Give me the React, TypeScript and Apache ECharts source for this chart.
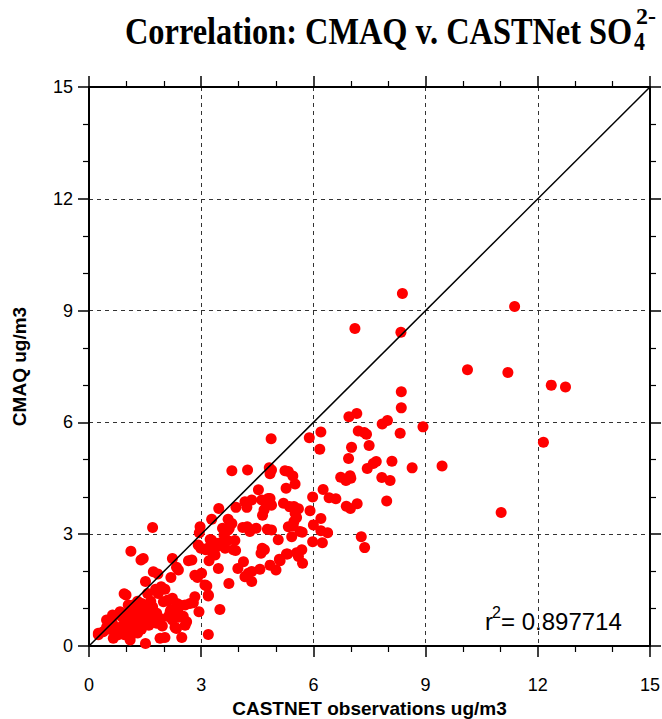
import React, { useEffect, useRef } from "react";
import * as echarts from "echarts";

// [CASTNET observation, CMAQ] pairs, ug/m3
const highPoints: [number, number][] = [
  [8.38, 9.46], [11.38, 9.11], [7.11, 8.52], [8.34, 8.42], [10.12, 7.41], [11.2, 7.34],
  [12.36, 7.0], [12.74, 6.95], [8.35, 6.82], [8.35, 6.39], [12.15, 5.47], [8.93, 5.88],
  [6.95, 6.15], [7.16, 6.24], [7.84, 5.96], [7.98, 6.05], [8.32, 5.71], [6.2, 5.74],
  [5.89, 5.59], [6.17, 5.28], [7.2, 5.77], [7.36, 5.73], [7.42, 5.68], [7.49, 5.38],
  [7.02, 5.33], [6.94, 5.03], [7.6, 4.9], [7.68, 4.95], [8.1, 4.96], [7.44, 4.76],
  [8.64, 4.78], [9.44, 4.83], [6.73, 4.53], [6.87, 4.44], [7.0, 4.5], [6.98, 4.57],
  [7.83, 4.52], [8.05, 4.44], [5.98, 4.0], [6.26, 4.2], [6.42, 3.98], [6.6, 3.95],
  [6.88, 3.75], [6.99, 3.69], [7.17, 3.82], [7.96, 3.89], [11.02, 3.58], [5.91, 3.63],
  [6.2, 3.42], [6.0, 3.25], [6.2, 3.09], [6.38, 3.04], [5.7, 3.05], [5.98, 2.8],
  [6.24, 2.77], [7.28, 2.93], [7.37, 2.64], [5.69, 2.58],
];

const midPoints: [number, number][] = [
  [4.87, 5.56], [4.88, 4.72], [5.24, 4.7], [5.33, 4.68], [5.45, 4.56], [5.51, 4.35],
  [5.27, 4.23], [4.84, 3.96], [4.88, 3.78], [5.2, 3.83], [5.36, 3.74], [5.48, 3.74],
  [5.6, 3.68], [5.51, 3.56], [5.55, 3.45], [5.48, 3.34], [5.33, 3.2], [5.46, 3.22],
  [4.88, 3.11], [5.06, 2.85], [5.42, 2.93], [5.64, 3.07], [5.28, 2.47], [5.55, 2.5],
  [5.09, 2.33], [5.6, 2.4], [3.82, 4.7], [4.24, 4.72], [4.82, 4.78], [4.84, 4.62],
  [4.53, 4.19], [4.17, 3.87], [4.35, 3.92], [4.62, 3.92], [4.79, 3.96], [4.75, 3.78],
  [4.68, 3.65], [4.64, 3.51], [4.22, 3.72], [3.93, 3.72], [3.47, 3.69], [3.28, 3.4],
  [3.72, 3.4], [3.82, 3.29], [3.75, 3.16], [3.57, 3.16], [3.61, 2.98], [4.11, 3.18],
  [4.23, 3.2], [4.3, 3.07], [4.47, 3.16], [4.77, 3.13], [2.97, 3.2], [2.95, 3.04],
  [1.7, 3.18], [3.24, 2.86], [3.46, 2.76], [3.7, 2.83], [3.9, 2.83],
  [3.19, 0.31], [3.5, 0.98], [3.74, 1.68], [3.15, 1.61], [3.19, 1.34], [3.98, 2.08],
  [4.13, 2.26], [4.17, 1.86], [4.26, 1.95], [4.35, 1.73], [4.35, 2.0], [4.57, 2.06],
  [4.6, 2.49], [4.69, 2.58], [4.63, 2.62], [4.84, 2.17], [5.0, 2.04], [5.11, 2.29],
  [5.31, 2.47], [5.71, 2.22], [3.21, 2.29], [3.46, 2.08], [3.37, 2.44], [3.41, 2.66],
  [3.5, 2.71], [3.17, 2.62], [3.28, 2.84], [3.92, 2.56], [3.68, 2.84], [3.64, 2.62],
  [3.86, 2.58], [3.72, 3.11], [3.01, 1.95], [3.24, 2.58],
];

const lowPoints: [number, number][] = [
  [1.12, 2.54], [1.39, 2.31], [1.45, 2.35], [1.72, 1.99], [1.84, 1.93], [2.23, 2.35],
  [2.34, 2.11], [2.39, 2.04], [2.66, 2.29], [2.75, 2.31], [2.19, 1.84], [2.83, 1.9],
  [2.9, 1.84], [1.51, 1.73], [1.78, 1.52], [1.9, 1.5], [1.85, 1.41], [1.57, 1.41],
  [0.94, 1.4], [2.1, 1.23], [2.23, 1.28], [1.18, 1.1], [1.41, 1.14], [1.45, 0.98],
  [1.72, 0.95], [1.81, 0.88], [2.19, 0.97], [2.37, 0.98], [2.57, 1.1], [2.79, 1.16],
  [2.94, 0.92], [0.83, 0.92], [0.87, 0.79], [1.01, 0.86], [1.1, 0.77], [1.21, 0.7],
  [1.32, 0.89], [0.61, 0.65], [0.65, 0.56], [0.47, 0.5], [0.38, 0.38], [0.25, 0.3],
  [0.74, 0.41], [0.78, 0.3], [1.05, 0.5], [1.18, 0.43], [1.1, 0.25], [1.45, 0.63],
  [1.6, 0.56], [1.68, 0.7], [1.81, 0.61], [1.9, 0.74], [1.96, 0.54], [2.12, 0.79],
  [2.23, 0.7], [2.39, 0.77], [2.52, 0.8], [2.61, 0.65], [2.3, 0.5], [1.51, 0.07],
  [1.9, 0.21], [2.03, 0.23], [2.48, 0.23], [3.1, 1.64], [3.19, 1.37], [2.99, 2.62],
  [3.32, 2.44], [2.03, 1.52], [1.93, 1.59], [2.92, 2.71], [3.12, 2.58], [2.83, 1.32],
  [2.7, 1.14], [2.43, 1.1], [2.35, 1.14], [2.12, 1.23], [1.99, 1.19], [2.17, 0.92],
  [2.43, 0.83], [2.57, 0.56], [2.34, 0.47], [0.99, 1.37], [0.63, 0.83], [0.47, 0.7],
  [0.25, 0.34], [1.05, 1.1], [0.65, 0.21], [1.1, 0.16], [1.2, 1.0], [1.3, 1.2],
  [1.35, 0.75], [1.5, 0.9], [1.55, 1.05], [1.65, 1.2], [1.6, 0.8], [1.0, 0.6],
  [1.25, 0.55], [1.4, 0.45], [0.9, 0.55], [0.55, 0.45], [1.7, 1.05], [1.3, 0.35],
  [0.95, 0.3],
];

const oneToOne: [number, number][] = [[0, 0], [15, 15]];
const axisMin = 0;
const axisMax = 15;
const axisStep = 3;
const r2Value = "0.897714";

const SANS = "'Liberation Sans', Arial, Helvetica, sans-serif";
const SERIF = "'Liberation Serif', 'Times New Roman', serif";

function axisCommon(show: boolean) {
  return {
    type: "value" as const,
    min: axisMin,
    max: axisMax,
    interval: axisStep,
    axisLine: { show: true, onZero: false, lineStyle: { color: "#000", width: 2 } },
    axisTick: { show: true, length: 11, lineStyle: { color: "#000", width: 1.5 } },
    minorTick: { show: true, splitNumber: 3, length: 6, lineStyle: { color: "#000", width: 1.2 } },
    axisLabel: {
      show,
      color: "#000",
      fontSize: 18,
      fontFamily: SANS,
    },
    splitLine: {
      show,
      lineStyle: { color: "#333", width: 1, type: [4, 4] as any },
    },
  };
}

export default function App() {
  const ref = useRef<HTMLDivElement>(null);
  useEffect(() => {
    if (!ref.current) return;
    const chart = echarts.init(ref.current, undefined, { renderer: "svg" });
    const titleScale = 0.875;
    chart.setOption({
      animation: false,
      backgroundColor: "#fff",
      grid: { left: 89, right: 12, top: 87, bottom: 73, outerBoundsMode: "none", containLabel: false },
      xAxis: [
        {
          ...axisCommon(true),
          position: "bottom",
          axisLabel: { ...axisCommon(true).axisLabel, margin: 30 },
          name: "CASTNET observations ug/m3",
          nameLocation: "middle",
          nameGap: 52,
          nameTextStyle: { color: "#000", fontSize: 19, fontWeight: "bold", fontFamily: SANS },
        },
        { ...axisCommon(false), position: "top" },
      ],
      yAxis: [
        {
          ...axisCommon(true),
          position: "left",
          axisLabel: { ...axisCommon(true).axisLabel, margin: 16 },
          name: "CMAQ ug/m3",
          nameLocation: "middle",
          nameGap: 60,
          nameTextStyle: { color: "#000", fontSize: 19, fontWeight: "bold", fontFamily: SANS },
        },
        { ...axisCommon(false), position: "right" },
      ],
      series: [
        {
          type: "scatter",
          xAxisIndex: 0,
          yAxisIndex: 0,
          data: [...lowPoints, ...midPoints, ...highPoints],
          symbol: "circle",
          symbolSize: 11,
          itemStyle: { color: "#ff0000", opacity: 1 },
          z: 2,
        },
        {
          type: "line",
          xAxisIndex: 0,
          yAxisIndex: 0,
          data: oneToOne,
          symbol: "none",
          lineStyle: { color: "#000", width: 1.5 },
          z: 3,
        },
      ],
      graphic: [
        {
          type: "text",
          x: 125,
          y: 32,
          scaleX: titleScale,
          style: {
            text: "Correlation: CMAQ v. CASTNet SO",
            font: `bold 37px ${SERIF}`,
            fill: "#000",
            textAlign: "left",
            textVerticalAlign: "middle",
          },
        },
        {
          type: "text",
          x: 634,
          y: 41,
          scaleX: titleScale,
          style: {
            text: "4",
            font: `bold 25px ${SERIF}`,
            fill: "#000",
            textAlign: "left",
            textVerticalAlign: "middle",
          },
        },
        {
          type: "text",
          x: 636,
          y: 16,
          style: {
            text: "2-",
            font: `bold 24px ${SERIF}`,
            fill: "#000",
            textAlign: "left",
            textVerticalAlign: "middle",
          },
        },
        {
          type: "text",
          x: 485,
          y: 621,
          style: {
            text: "r",
            font: `24px ${SANS}`,
            fill: "#000",
            textAlign: "left",
            textVerticalAlign: "middle",
          },
        },
        {
          type: "text",
          x: 492,
          y: 612,
          style: {
            text: "2",
            font: `16px ${SANS}`,
            fill: "#000",
            textAlign: "left",
            textVerticalAlign: "middle",
          },
        },
        {
          type: "text",
          x: 501,
          y: 621,
          style: {
            text: "= " + r2Value,
            font: `24px ${SANS}`,
            fill: "#000",
            textAlign: "left",
            textVerticalAlign: "middle",
          },
        },
      ],
    });
    return () => chart.dispose();
  }, []);
  return (
    <div
      ref={ref}
      style={{ position: "fixed", left: 0, top: 0, width: 662, height: 719, background: "#fff" }}
    />
  );
}
